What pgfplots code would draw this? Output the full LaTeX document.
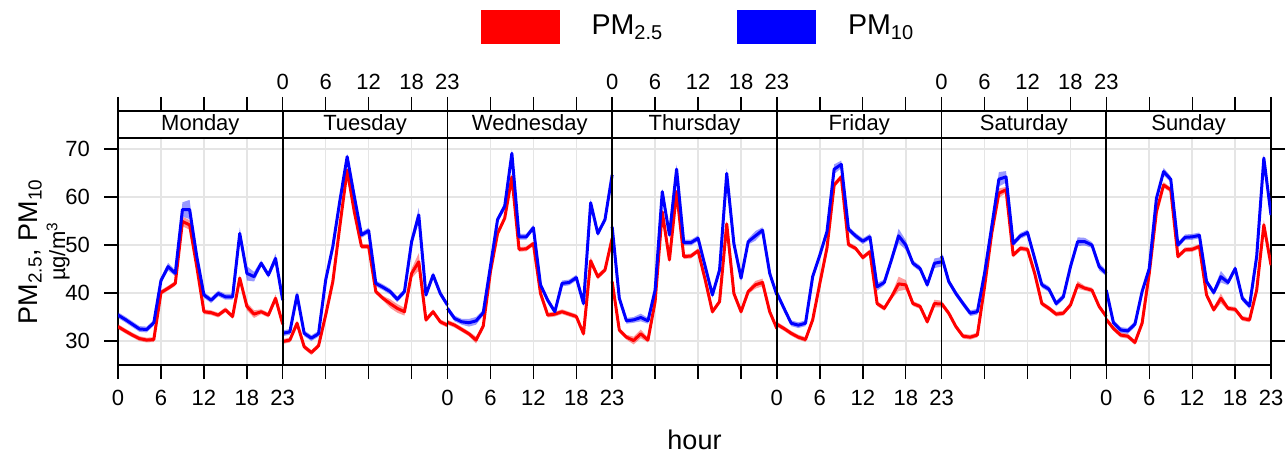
\documentclass[border=0pt]{standalone}
\usepackage{fontspec}
\setmainfont{Liberation Sans}
\usepackage{pgfplots}
\usepackage{pgfplotstable}
\pgfplotsset{compat=1.18}
\usepgfplotslibrary{fillbetween}

\definecolor{pmred}{RGB}{255,0,0}
\definecolor{pmblue}{RGB}{0,0,255}
\definecolor{gridgrey}{RGB}{229,229,229}

% d = day (0 = Monday), h = hour, a = PM2.5, b = PM10, ea/eb = half width of the shaded interval
\pgfplotstableread{
d h a ea b eb
0 0 33.0 0.5 35.4 0.6
0 1 32.1 0.5 34.5 0.6
0 2 31.25 0.5 33.5 0.6
0 3 30.5 0.5 32.5 0.6
0 4 30.2 0.5 32.4 0.6
0 5 30.3 0.5 33.8 0.6
0 6 40.1 0.5 42.6 0.6
0 7 41.0 0.5 45.5 0.8
0 8 42.0 0.5 44.1 0.6
0 9 54.9 1.0 57.4 1.5
0 10 54.2 1.0 57.4 2.0
0 11 45.5 0.5 47.6 0.6
0 12 36.1 0.5 39.6 0.6
0 13 35.9 0.5 38.5 0.6
0 14 35.4 0.5 39.9 0.6
0 15 36.5 0.5 39.2 0.6
0 16 35.1 0.5 39.2 0.6
0 17 43.1 0.6 52.4 1.2
0 18 37.2 0.8 44.1 1.5
0 19 35.6 0.8 43.4 1.0
0 20 36.1 0.5 46.2 0.6
0 21 35.4 0.5 43.75 0.6
0 22 38.9 0.8 47.2 1.0
0 23 33.5 0.5 38.5 0.6
1 0 29.9 0.5 31.6 0.6
1 1 30.2 0.5 31.9 0.6
1 2 33.7 0.6 39.6 0.8
1 3 28.8 0.5 31.6 0.6
1 4 27.6 0.5 30.6 0.6
1 5 29.0 0.5 31.5 0.6
1 6 35.4 0.5 42.7 0.6
1 7 42.4 0.5 49.7 0.6
1 8 54.2 0.5 59.4 0.6
1 9 65.6 0.6 68.4 0.6
1 10 56.9 0.5 60.1 0.6
1 11 49.7 0.5 52.1 0.6
1 12 49.7 0.5 53.0 0.6
1 13 40.3 0.5 42.0 0.6
1 14 38.9 0.5 41.2 0.6
1 15 37.8 0.9 40.3 0.6
1 16 36.8 0.9 38.7 0.6
1 17 36.1 0.8 40.3 0.6
1 18 44.1 1.0 50.7 1.0
1 19 46.5 1.8 56.25 1.5
1 20 34.4 0.5 39.6 0.6
1 21 36.1 0.5 43.75 0.6
1 22 34.0 0.5 39.9 0.6
1 23 33.3 0.5 37.5 0.6
2 0 33.9 0.5 36.8 0.6
2 1 33.3 0.5 34.7 0.6
2 2 32.4 0.5 34.0 0.6
2 3 31.5 0.5 33.8 0.8
2 4 30.2 0.7 34.2 0.8
2 5 33.1 0.5 35.9 0.6
2 6 44.4 0.5 45.5 0.6
2 7 52.4 0.6 55.3 0.6
2 8 55.6 0.6 58.1 0.8
2 9 64.2 0.6 69.1 0.8
2 10 49.1 0.5 51.7 0.6
2 11 49.2 0.5 51.7 0.6
2 12 50.3 0.5 53.6 0.6
2 13 39.9 0.5 41.7 0.6
2 14 35.4 0.5 38.5 0.6
2 15 35.6 0.5 36.1 0.6
2 16 36.1 0.5 42.0 0.6
2 17 35.6 0.5 42.2 0.6
2 18 35.1 0.5 43.2 0.6
2 19 31.5 0.5 37.8 0.6
2 20 46.7 0.8 58.8 0.8
2 21 43.4 0.6 52.4 0.6
2 22 44.8 0.5 55.3 0.6
2 23 51.4 0.5 64.6 0.6
3 0 42.4 0.5 53.8 0.6
3 1 32.3 0.5 38.9 0.6
3 2 30.8 0.5 34.2 0.6
3 3 30.1 0.8 34.4 0.6
3 4 31.5 0.9 34.9 0.8
3 5 30.2 0.5 34.2 0.6
3 6 38.2 0.5 40.6 0.6
3 7 56.9 0.5 61.1 0.6
3 8 46.9 0.5 52.1 0.6
3 9 61.1 0.6 65.8 1.0
3 10 47.6 0.5 50.5 0.6
3 11 47.7 0.5 50.5 0.6
3 12 48.8 0.5 51.4 0.6
3 13 42.7 0.5 45.5 0.6
3 14 36.1 0.5 39.6 0.6
3 15 38.2 0.5 44.8 0.6
3 16 54.4 0.6 64.9 1.0
3 17 39.9 0.5 50.3 0.6
3 18 36.1 0.5 43.1 0.6
3 19 40.3 0.5 50.7 0.6
3 20 41.7 0.8 51.9 1.0
3 21 42.2 0.8 53.1 0.6
3 22 36.1 0.5 44.1 0.6
3 23 32.6 0.5 39.6 0.6
4 0 33.5 0.5 40.0 0.6
4 1 32.6 0.5 36.8 0.6
4 2 31.6 0.5 33.7 0.6
4 3 30.8 0.5 33.3 0.6
4 4 30.3 0.5 33.7 0.6
4 5 34.4 0.5 43.4 0.6
4 6 42.0 0.5 47.9 0.6
4 7 49.4 0.5 52.8 0.6
4 8 62.5 0.6 65.8 1.0
4 9 64.2 0.5 66.8 0.8
4 10 50.1 0.5 53.3 0.6
4 11 49.3 0.5 51.9 0.6
4 12 47.4 0.5 50.8 0.6
4 13 48.6 0.5 51.7 0.6
4 14 37.8 0.5 41.3 0.8
4 15 36.8 0.5 42.2 0.6
4 16 39.2 0.5 46.9 0.6
4 17 41.9 1.5 51.9 1.5
4 18 41.7 1.0 50.0 1.0
4 19 37.8 0.5 46.2 0.6
4 20 37.2 0.5 45.1 0.6
4 21 34.0 0.5 41.7 0.6
4 22 37.8 0.8 46.2 1.0
4 23 37.7 0.7 46.5 1.0
5 0 37.8 0.6 47.7 1.0
5 1 35.8 0.5 42.4 0.6
5 2 33.0 0.5 39.9 0.6
5 3 31.0 0.5 37.8 0.6
5 4 30.8 0.5 35.8 0.6
5 5 31.25 0.5 36.1 0.6
5 6 41.3 0.5 44.1 0.6
5 7 52.4 0.5 53.8 0.6
5 8 60.8 1.0 63.7 1.5
5 9 61.5 0.6 64.2 1.2
5 10 47.9 0.5 50.3 0.6
5 11 49.3 0.5 51.9 0.6
5 12 49.1 0.5 52.6 0.6
5 13 44.1 0.5 47.2 0.6
5 14 37.8 0.5 41.7 0.6
5 15 36.8 0.5 40.8 0.6
5 16 35.6 0.5 37.8 0.6
5 17 35.8 0.5 39.2 0.6
5 18 37.5 0.5 45.5 0.6
5 19 41.7 0.8 50.7 0.9
5 20 41.0 0.5 50.7 0.8
5 21 40.6 0.5 50.0 0.6
5 22 37.2 0.5 45.5 0.8
5 23 35.1 0.5 44.1 0.6
6 0 34.5 0.5 40.6 0.6
6 1 32.6 0.5 33.8 0.6
6 2 31.25 0.5 32.3 0.6
6 3 31.0 0.5 32.1 0.6
6 4 29.7 0.5 33.5 0.6
6 5 33.7 0.5 40.3 0.6
6 6 44.1 0.5 45.1 0.6
6 7 56.9 0.5 59.7 0.6
6 8 62.5 0.6 65.3 0.8
6 9 61.5 0.5 63.7 0.6
6 10 47.6 0.5 50.0 0.6
6 11 49.0 0.5 51.6 0.6
6 12 49.1 0.5 51.7 0.6
6 13 49.7 0.5 52.0 0.6
6 14 39.6 0.5 42.4 0.6
6 15 36.5 0.5 40.1 0.6
6 16 38.9 1.0 43.4 1.2
6 17 36.8 0.5 42.2 0.6
6 18 36.6 0.5 45.1 0.6
6 19 34.7 0.5 38.9 0.6
6 20 34.4 0.5 37.3 0.6
6 21 40.6 0.5 47.6 0.6
6 22 54.2 1.0 68.1 0.8
6 23 45.8 0.5 56.25 0.6
}\hourly

\newcommand{\hticks}{0,6,12,18,23,29,35,41,46,52,58,64,69,75,81,87,92,98,104,110,115,121,127,133,138,144,150,156,161}
\pgfplotsset{
  panel/.style={
    scale only axis, width=576.5pt,
    xmin=0, xmax=161,
    xtick=\hticks,
    tick align=outside, major tick length=7pt,
    axis line style={line width=0.7pt},
    tick style={line width=0.7pt, black},
    tick label style={font=\fontsize{11}{13}\selectfont},
    /pgf/number format/assume math mode=true,
  },
}

\begin{document}
\begin{tikzpicture}
\begin{axis}[panel, name=main, height=113.5pt,
  ymin=25, ymax=72.3,
  ytick={30,40,50,60,70},
  xticklabels={0,6,12,18,23,,,,0,6,12,18,23,,,,0,6,12,18,23,,,,0,6,12,18,23},
  xtick pos=left, ytick pos=both, yticklabel pos=left,
  xticklabel style={yshift=-2pt},
  yticklabel style={xshift=-3.5pt},
  grid=major, major grid style={gridgrey, line width=0.8pt},
  xlabel={hour},
  xlabel style={at={(axis description cs:0.5,0)}, anchor=center, yshift=-37.5pt,
    font=\fontsize{13.5}{16}\selectfont},
  ylabel={{\fontsize{13.5}{16}\selectfont PM\textsubscript{2.5}, PM\textsubscript{10}}\\[2pt]
    {\fontsize{11}{12}\selectfont µg/m\textsuperscript{3}}},
  ylabel style={at={(axis description cs:-0.0640,0.5)}, anchor=center, align=center},
  legend columns=2,
  legend style={draw=none, fill=none, at={(axis description cs:0.5,1)}, anchor=center,
    yshift=55.75pt, xshift=2.5pt, font=\fontsize{14.3}{17}\selectfont,
    /tikz/every odd column/.append style={column sep=14pt},
    /tikz/every even column/.append style={column sep=35pt}},
]
\addlegendimage{legend image code/.code={\fill[pmred] (0pt,-8.25pt) rectangle (39pt,8.25pt);}}
\addlegendentry{PM\textsubscript{2.5}}
\addlegendimage{legend image code/.code={\fill[pmblue] (0pt,-8.25pt) rectangle (39pt,8.25pt);}}
\addlegendentry{PM\textsubscript{10}}

\pgfplotsinvokeforeach{0,...,6}{
  \addplot[draw=none, forget plot, name path=ahi#1, restrict expr to domain={\thisrow{d}}{#1:#1}]
    table[x expr=\thisrow{h}+23*#1, y expr=\thisrow{a}+\thisrow{ea}] {\hourly};
  \addplot[draw=none, forget plot, name path=alo#1, restrict expr to domain={\thisrow{d}}{#1:#1}]
    table[x expr=\thisrow{h}+23*#1, y expr=\thisrow{a}-\thisrow{ea}] {\hourly};
  \addplot[fill=pmred, fill opacity=0.4, draw=none, forget plot] fill between[of=ahi#1 and alo#1];
  \addplot[draw=none, forget plot, name path=bhi#1, restrict expr to domain={\thisrow{d}}{#1:#1}]
    table[x expr=\thisrow{h}+23*#1, y expr=\thisrow{b}+\thisrow{eb}] {\hourly};
  \addplot[draw=none, forget plot, name path=blo#1, restrict expr to domain={\thisrow{d}}{#1:#1}]
    table[x expr=\thisrow{h}+23*#1, y expr=\thisrow{b}-\thisrow{eb}] {\hourly};
  \addplot[fill=pmblue, fill opacity=0.4, draw=none, forget plot] fill between[of=bhi#1 and blo#1];
}
\pgfplotsinvokeforeach{0,...,6}{
  \addplot[pmred, line width=1.5pt, line join=round, forget plot, restrict expr to domain={\thisrow{d}}{#1:#1}]
    table[x expr=\thisrow{h}+23*#1, y=a] {\hourly};
  \addplot[pmblue, line width=1.5pt, line join=round, forget plot, restrict expr to domain={\thisrow{d}}{#1:#1}]
    table[x expr=\thisrow{h}+23*#1, y=b] {\hourly};
}
\pgfplotsinvokeforeach{23,46,69,92,115,138}{
  \draw[black, line width=0.8pt] (axis cs:#1,25) -- (axis cs:#1,72.3);
}
\end{axis}

\begin{axis}[panel, at={(main.north west)}, anchor=south west, height=13.5pt,
  ymin=0, ymax=1, ytick=\empty,
  xticklabels={,,,,0,6,12,18,23,,,,0,6,12,18,23,,,,0,6,12,18,23,,,,},
  xtick pos=right, xticklabel pos=right,
  clip=false,
]
\pgfplotsinvokeforeach{23,46,69,92,115,138}{
  \draw[black, line width=0.8pt] (axis cs:#1,0) -- (axis cs:#1,1);
}
\node[font=\fontsize{11}{13}\selectfont] at (axis cs:11.5,0.5) {Monday};
\node[font=\fontsize{11}{13}\selectfont] at (axis cs:34.5,0.5) {Tuesday};
\node[font=\fontsize{11}{13}\selectfont] at (axis cs:57.5,0.5) {Wednesday};
\node[font=\fontsize{11}{13}\selectfont] at (axis cs:80.5,0.5) {Thursday};
\node[font=\fontsize{11}{13}\selectfont] at (axis cs:103.5,0.5) {Friday};
\node[font=\fontsize{11}{13}\selectfont] at (axis cs:126.5,0.5) {Saturday};
\node[font=\fontsize{11}{13}\selectfont] at (axis cs:149.5,0.5) {Sunday};
\end{axis}

\pgfresetboundingbox
\path[use as bounding box] ([shift={(-59pt,-48pt)}]main.south west) rectangle ([shift={(584pt,182.5pt)}]main.south west);
\end{tikzpicture}
\end{document}
